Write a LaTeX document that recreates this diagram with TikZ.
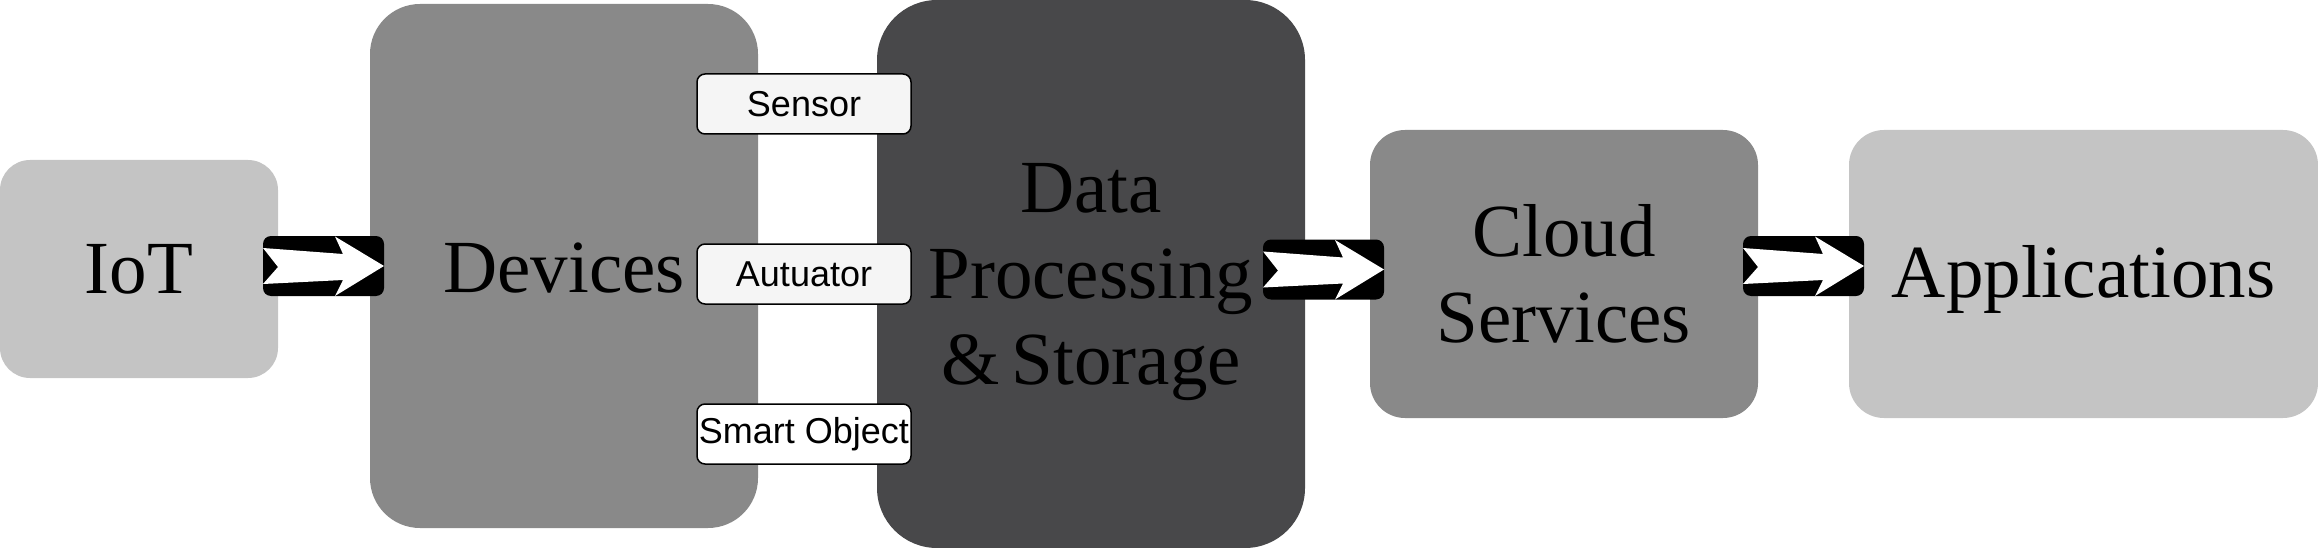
\documentclass[tikz,border=0pt]{standalone}
\usepackage{fontspec}
\setmainfont{Liberation Serif}
\newfontfamily\smallsans{Liberation Sans}
\usetikzlibrary{calc}
\definecolor{lightg}{HTML}{C4C4C4}
\definecolor{midg}{HTML}{898989}
\definecolor{darkg}{HTML}{48484A}
\definecolor{tagg}{HTML}{F5F5F5}
\tikzset{
  bigbox/.style={rectangle, draw=none, inner sep=0pt},
  bigtext/.style={inner sep=0pt, align=center,
    font=\fontsize{75}{86}\selectfont, text=black},
  tagbox/.style={rectangle, draw=black, line width=1.5pt, rounded corners=8pt,
    fill=tagg, minimum width=214pt, minimum height=60pt, inner sep=0pt,
    font=\smallsans\fontsize{36}{40}\selectfont},
  arrowbox/.style={rectangle, fill=black, draw=none, rounded corners=8pt,
    minimum width=121pt, minimum height=60pt, inner sep=0pt},
  whitearrow/.style={fill=white, draw=none}
}
\newcommand{\flowarrow}[1]{%
  \begin{scope}[shift={(#1.center)}]
    \path[whitearrow] (-60.5,-18) -- (19.5,-12) -- (11.5,-29.5) -- (60.5,0)
      -- (11.5,30) -- (19.5,14) -- (-60.5,18) -- (-45.5,1) -- cycle;
  \end{scope}}
\begin{document}
\begin{tikzpicture}[x=1pt,y=-1pt]
\useasboundingbox (0,0) rectangle (2318,548);
% main boxes
\node[bigbox, fill=lightg, rounded corners=30pt, minimum width=278pt, minimum height=218pt] (iot) at (139,269) {};
\node[bigtext] (iotT) at ($(iot.center)+(0,0)$) {IoT};
\node[bigbox, fill=midg, rounded corners=50pt, minimum width=388pt, minimum height=524pt] (dev) at (564,266) {};
\node[bigtext] (devT) at ($(dev.center)+(0,2)$) {Devices};
\node[bigbox, fill=darkg, rounded corners=60pt, minimum width=428pt, minimum height=548pt] (data) at (1091,274) {};
\node[bigtext] (dataT) at ($(data.center)+(0,8)$) {Data\\Processing\\\&\,Storage};
\node[bigbox, fill=midg, rounded corners=35pt, minimum width=388pt, minimum height=288pt] (cloud) at (1564,274) {};
\node[bigtext] (cloudT) at ($(cloud.center)+(0,0)$) {Cloud\\Services};
\node[bigbox, fill=lightg, rounded corners=35pt, minimum width=469pt, minimum height=288pt] (app) at (2083.5,274) {};
\node[bigtext] (appT) at ($(app.center)+(0,5)$) {Applications};
% tags
\node[tagbox] (sensor) at (804,104) {Sensor};
\node[tagbox] (act) at (804,274) {Autuator};
\node[tagbox, fill=white] (smart) at (804,434) {Smart Object};
% arrows
\node[arrowbox] (a1) at (323.5,266) {};
\flowarrow{a1}
\node[arrowbox] (a2) at (1323.5,269.5) {};
\flowarrow{a2}
\node[arrowbox] (a3) at (1803.5,266) {};
\flowarrow{a3}
\end{tikzpicture}
\end{document}
